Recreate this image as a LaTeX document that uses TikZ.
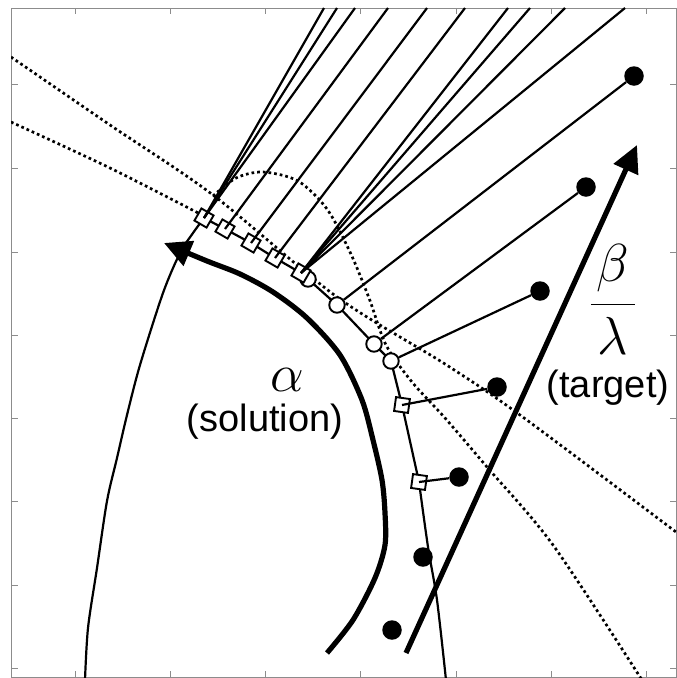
\documentclass[tikz,border=0pt]{standalone}
\usepackage{fontspec}
\newfontfamily\labelfont{Liberation Sans}
\usetikzlibrary{arrows.meta}
\definecolor{frameGray}{HTML}{8C8C8C}

\tikzset{
  sqmark/.style={draw, fill=white, minimum size=14pt, inner sep=0pt, line width=1.9pt},
  circmark/.style={circle, draw, fill=white, minimum size=15.5pt, inner sep=0pt, line width=1.9pt},
  goal/.style={circle, fill=black, minimum size=19.5pt, inner sep=0pt},
  link/.style={line width=2.2pt},
  contour/.style={line width=2.7pt, dash pattern=on 2.7pt off 3pt},
  bigarrow/.style={line width=5.2pt, -{Triangle[length=27pt, width=26pt]}},
  mathlabel/.style={font=\Huge, scale=2.15, inner sep=0pt},
  textlabel/.style={font=\labelfont\fontsize{38}{40}\selectfont, inner sep=0pt},
}

\begin{document}
\begin{tikzpicture}[x=1pt, y=-1pt]
  \useasboundingbox (0,0) rectangle (677,678);
  % axes box
  \draw[frameGray, line width=1pt] (11,8) rectangle (676.5,677);
  \foreach \x in {75,170,265,360,456,551,646} {
    \draw[frameGray, line width=1pt] (\x,8) -- (\x,14);
    \draw[frameGray, line width=1pt] (\x,677) -- (\x,671);
  }
  \foreach \y in {84,168,252,335,418,501,585,668} {
    \draw[frameGray, line width=1pt] (11,\y) -- (18,\y);
    \draw[frameGray, line width=1pt] (676.5,\y) -- (669.5,\y);
  }

  % level curves
  \begin{scope}
    \clip (11,8) rectangle (676.5,677);
    \draw[contour] plot[smooth] coordinates {(11,57) (110,125) (213,195) (337,297) (445,364) (520,415) (680,535)};
    \draw[contour] plot[smooth] coordinates {(11,122) (110,168) (204,216)};
    \draw[contour] plot[smooth] coordinates {(213,196) (236,178) (263,172) (298,181) (327,209) (350,252) (369,298) (386,345) (412,382) (445,418) (487,467) (553,545) (642,680)};
  \end{scope}

  % boundary points
  \coordinate (p1) at (204,218);
  \coordinate (p2) at (225,229);
  \coordinate (p3) at (251,243);
  \coordinate (p4) at (275,258);
  \coordinate (p5) at (301,273);
  \coordinate (p6) at (308,279);
  \coordinate (p7) at (337,305);
  \coordinate (p8) at (374,344);
  \coordinate (p9) at (391,361);
  \coordinate (p10) at (402,405);
  \coordinate (p11) at (419,482);

  \draw[link] plot[smooth] coordinates {(85,680) (88,628) (97,568) (107,501) (117,458) (127,415) (140,365) (163,293) (180,253) (193,233) (204,218)};
  \draw[link] (p1) -- (p2) -- (p3) -- (p4) -- (p5) -- (p6) -- (p7) -- (p8) -- (p9) -- (p10) -- (p11);
  \draw[link] plot[smooth] coordinates {(419,482) (428,547) (437,600) (446,680)};

  \foreach \i in {6,...,9} \node[circmark] (c\i) at (p\i) {};
  \foreach \i in {1,...,5} \node[sqmark, rotate=-30] (s\i) at (p\i) {};
  \node[sqmark, rotate=-8] (s10) at (p10) {};
  \node[sqmark, rotate=-8] (s11) at (p11) {};

  % rays to the top
  \foreach \n/\x in {1/324, 2/337, 3/355, 4/388, 5/427, 6/465, 7/508, 8/530, 9/565, 10/625}
    \coordinate (t\n) at (\x,8);
  \foreach \a/\b in {s1/t1, s1/t2, s1/t3, s2/t4, s3/t5, s4/t6, s5/t7, s5/t8, s5/t9, s5/t10}
    \draw[link] (\a.center) -- (\b);

  % targets
  \node[goal] (d1) at (634,76) {};
  \node[goal] (d2) at (586,187) {};
  \node[goal] (d3) at (540,291) {};
  \node[goal] (d4) at (497,387) {};
  \node[goal] (d5) at (459,477) {};
  \node[goal] (d6) at (423,557) {};
  \node[goal] (d7) at (392,630) {};
  \draw[link] (c7) -- (d1);
  \draw[link] (c8) -- (d2);
  \draw[link] (c9) -- (d3);
  \draw[link] (s10.center) -- (d4);
  \draw[link] (s11.center) -- (d5);

  % solution and target paths
  \draw[bigarrow] plot[smooth] coordinates {(327,653) (353,620) (375,578) (385,545) (385,513) (382,480) (373,440) (362,400) (340,355) (307,318) (273,292) (240,274) (207,261) (164,243)};
  \coordinate (bStart) at (406,653);
  \coordinate (bTip) at (637,145);
  \draw[bigarrow] (bStart) -- (bTip);

  \node[mathlabel] (alpha) at (287,380) {$\alpha$};
  \node[textlabel] (solution) at (265,422) {(solution)};
  \node[mathlabel, anchor=base] (ratio) at (613,318) {$\displaystyle\frac{\mkern2mu\beta\mkern2mu}{\mkern2mu\lambda\mkern2mu}$};
  \node[textlabel] (target) at (608,388) {(target)};
\end{tikzpicture}
\end{document}
